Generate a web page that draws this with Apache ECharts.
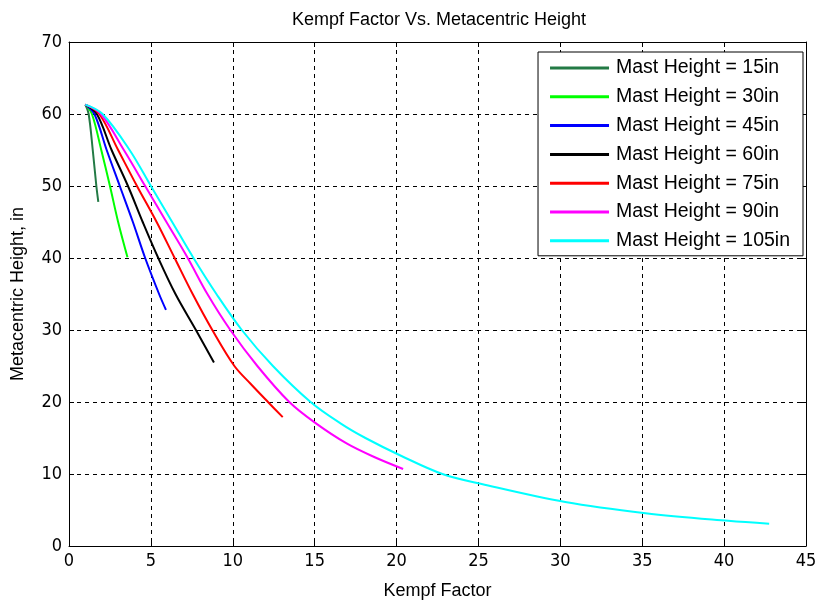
<!DOCTYPE html>
<html>
<head>
<meta charset="utf-8">
<script src="https://cdn.jsdelivr.net/npm/echarts@6/dist/echarts.min.js"></script>
<style>
html,body{margin:0;padding:0;background:#fff;}
#chart{width:821px;height:605px;}
</style>
</head>
<body>
<div id="chart"></div>
<script>
const titleText = 'Kempf Factor Vs. Metacentric Height';
const xName = 'Kempf Factor';
const yName = 'Metacentric Height, in';
const seriesNames = ['Mast Height = 15in','Mast Height = 30in','Mast Height = 45in','Mast Height = 60in','Mast Height = 75in','Mast Height = 90in','Mast Height = 105in'];
const seriesColors = ['#237a45','#00ff00','#0000ff','#000000','#ff0000','#ff00ff','#00ffff'];

const mast15 = [[1.0,61.3],[1.2,60.0],[1.45,55.0],[1.67,50.0],[1.79,47.8]];
const mast30 = [[1.0,61.3],[1.4,60.0],[1.97,55.0],[2.5,50.0],[3.0,45.0],[3.57,40.1]];
const mast45 = [[1.0,61.3],[1.55,60.0],[2.3,55.0],[3.1,50.0],[3.9,45.0],[4.65,40.0],[5.5,35.0],[5.92,32.8]];
const mast60 = [[1.0,61.3],[1.7,60.0],[2.6,55.0],[3.6,50.0],[4.5,45.0],[5.45,40.0],[6.5,35.0],[7.75,30.0],[8.85,25.5]];
const mast75 = [[1.0,61.3],[1.85,60.0],[3.0,55.0],[4.15,50.0],[5.35,45.0],[6.45,40.0],[7.55,35.0],[8.75,30.0],[10.1,25.0],[11.1,22.5],[12.15,20.0],[13.05,17.9]];
const mast90 = [[1.0,61.3],[1.95,60.0],[3.35,55.0],[4.65,50.0],[5.95,45.0],[7.25,40.0],[8.45,35.0],[9.85,30.0],[11.5,25.0],[13.45,20.0],[15.1,17.0],[16.95,14.25],[18.6,12.4],[20.4,10.7]];
const mast105 = [[1.0,61.3],[2.05,60.0],[3.7,55.0],[5.0,50.0],[6.3,45.0],[7.6,40.0],[9.0,35.0],[10.55,30.0],[12.45,25.0],[14.75,20.0],[16.6,17.0],[18.1,15.0],[20.3,12.5],[22.8,10.0],[25.2,8.6],[30.3,6.1],[35.2,4.56],[40.25,3.5],[42.75,3.1]];
const seriesData = [mast15, mast30, mast45, mast60, mast75, mast90, mast105];

const xMin = 0, xMax = 45, xStep = 5;
const yMin = 0, yMax = 70, yStep = 10;

const font = "'Liberation Sans', Arial, sans-serif";
const narrow = "'Liberation Sans Narrow', 'DejaVu Sans Condensed', 'Liberation Sans', sans-serif";

const chart = echarts.init(document.getElementById('chart'), null, {renderer: 'canvas'});

const gridLine = {show: true, lineStyle: {color: '#000', width: 1, type: [4, 4]}};

const option = {
  backgroundColor: '#fff',
  animation: false,
  title: {
    text: titleText,
    left: 434,
    top: 6,
    textAlign: 'center',
    textStyle: {fontFamily: font, fontSize: 18, fontWeight: 'normal', color: '#000'}
  },
  grid: {left: 69, right: 15, top: 42, bottom: 57, containLabel: false},
  legend: {
    orient: 'vertical',
    right: 18,
    top: 52,
    data: seriesNames,
    icon: 'rect',
    itemWidth: 59,
    itemHeight: 3,
    itemGap: 8.8,
    padding: [6, 13, 5, 12],
    borderColor: '#000',
    borderWidth: 1,
    backgroundColor: '#fff',
    textStyle: {fontFamily: font, fontSize: 19.5, lineHeight: 19, color: '#000', padding: [0, 0, 0, 2]}
  },
  xAxis: [{
    type: 'value', min: xMin, max: xMax, interval: xStep, position: 'bottom',
    name: xName, nameLocation: 'middle', nameGap: 36,
    nameTextStyle: {fontFamily: font, fontSize: 18, color: '#000'},
    axisLine: {show: true, onZero: false, lineStyle: {color: '#000', width: 1}},
    axisTick: {show: true, inside: true, length: 5, lineStyle: {color: '#000'}},
    axisLabel: {fontFamily: narrow, fontSize: 18, color: '#000', margin: 6},
    splitLine: gridLine
  }, {
    type: 'value', min: xMin, max: xMax, interval: xStep, position: 'top',
    axisLine: {show: true, onZero: false, lineStyle: {color: '#000', width: 1}},
    axisTick: {show: true, inside: true, length: 5, lineStyle: {color: '#000'}},
    axisLabel: {show: false},
    splitLine: {show: false}
  }],
  yAxis: [{
    type: 'value', min: yMin, max: yMax, interval: yStep, position: 'left',
    name: yName, nameLocation: 'middle', nameGap: 42, nameRotate: 90,
    nameTextStyle: {fontFamily: font, fontSize: 18, color: '#000'},
    axisLine: {show: true, onZero: false, lineStyle: {color: '#000', width: 1}},
    axisTick: {show: true, inside: true, length: 5, lineStyle: {color: '#000'}},
    axisLabel: {fontFamily: narrow, fontSize: 18, color: '#000', margin: 7},
    splitLine: gridLine
  }, {
    type: 'value', min: yMin, max: yMax, interval: yStep, position: 'right',
    axisLine: {show: true, onZero: false, lineStyle: {color: '#000', width: 1}},
    axisTick: {show: true, inside: true, length: 5, lineStyle: {color: '#000'}},
    axisLabel: {show: false},
    splitLine: {show: false}
  }],
  series: seriesData.map((d, i) => ({
    name: seriesNames[i],
    type: 'line',
    data: d,
    xAxisIndex: 0,
    yAxisIndex: 0,
    symbol: 'none',
    smooth: 0.35,
    lineStyle: {color: seriesColors[i], width: 2},
    itemStyle: {color: seriesColors[i]},
    z: 3
  }))
};
chart.setOption(option);
</script>
</body>
</html>
